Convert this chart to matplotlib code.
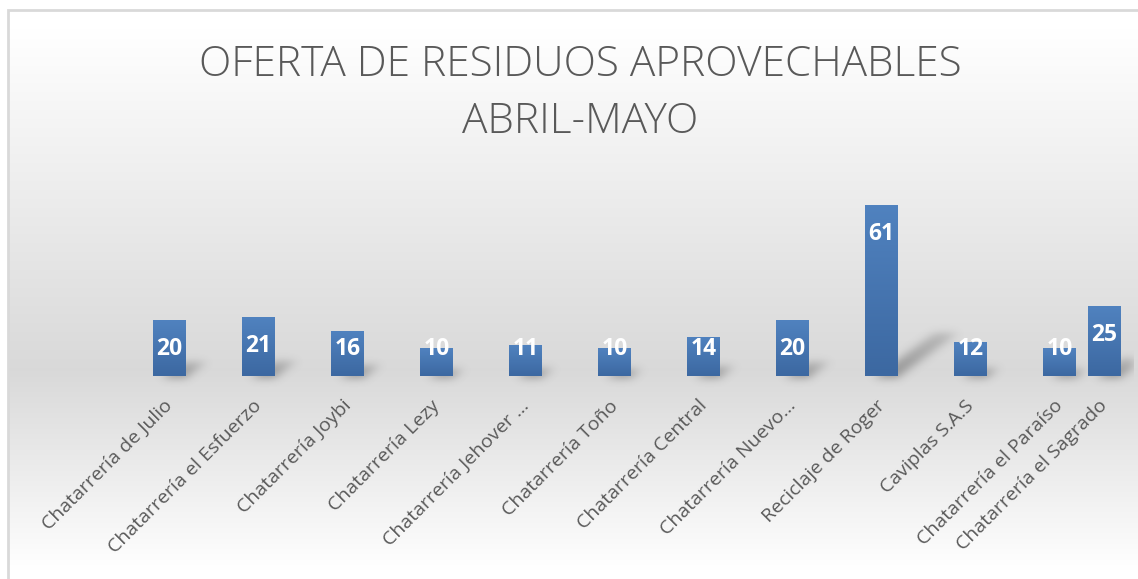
import numpy as np
import matplotlib.pyplot as plt
import matplotlib.transforms as mtransforms
from matplotlib.patches import Rectangle

# Data
categories = ['Chatarrería de Julio', 'Chatarrería el Esfuerzo', 'Chatarrería Joybi',
              'Chatarrería Lezy', 'Chatarrería Jehover ...', 'Chatarrería Toño',
              'Chatarrería Central', 'Chatarrería Nuevo...', 'Reciclaje de Roger',
              'Caviplas S.A.S', 'Chatarrería el Paraíso', 'Chatarrería el Sagrado']
values = [20, 21, 16, 10, 11, 10, 14, 20, 61, 12, 10, 25]
title = 'OFERTA DE RESIDUOS APROVECHABLES\nABRIL-MAYO'

plt.rcParams['font.family'] = ['Open Sans', 'DejaVu Sans']

W, H = 1138, 579
fig = plt.figure(figsize=(W / 100, H / 100), dpi=100)

# background gradient (white -> gray -> white), vertical
bg = fig.add_axes([0, 0, 1, 1])
rows = (np.arange(H) + 0.5) / H  # 0 top, 1 bottom
ytop, ymid, ybot = 30 / H, 370 / H, 570 / H
g = np.where(rows < ymid,
             1.0 - 0.15 * np.clip((rows - ytop) / (ymid - ytop), 0, 1),
             0.85 + 0.15 * np.clip((rows - ymid) / (ybot - ymid), 0, 1))
img = np.dstack([g[:, None]] * 3)
bg.imshow(img, aspect='auto', extent=[0, 1, 0, 1], interpolation='bilinear')
bg.set_xlim(0, 1)
bg.set_ylim(0, 1)
bg.axis('off')
# white margin outside the chart frame
bg.add_patch(Rectangle((0, 1 - 10 / H), 1, 10 / H, facecolor='white', edgecolor='none'))
bg.add_patch(Rectangle((0, 0), 8 / W, 1, facecolor='white', edgecolor='none'))
bg.add_patch(Rectangle((8 / W, -0.01), 1.1, 1 - 10 / H + 0.01, fill=False,
                       edgecolor='#d9d9d9', linewidth=2))

# plot area
px = 2.8  # pixels per unit
base = 376
left_px, right_px = 125, 1134
ax = fig.add_axes([left_px / W, (H - base) / H, (right_px - left_px) / W, (base - 190) / H])
ax.set_facecolor('none')

x = np.arange(len(values), dtype=float)
x[-1] = 10.5  # last column squeezed next to the previous one
width = 0.36
xmin, xmax = -0.5, -0.5 + (right_px - left_px) / 89
ymax = (base - 190) / px

# soft shadows: rasterise a slanted footprint per bar and blur it
nx, ny = right_px - left_px, 200
below = 14  # pixels under the baseline
xs = xmin + (np.arange(nx) + 0.5) / nx * (xmax - xmin)
ys = (np.arange(ny) + 0.5)[::-1] / px - below / px
XX, YY = np.meshgrid(xs, ys)
mask = np.zeros_like(XX)
for xi, v in zip(x, values):
    dy = v * 0.25
    dx = v * px * 0.34 / 89
    t = np.clip(YY / dy, 0, None)
    x0 = xi - width / 2 + 0.12 + t * dx
    x1 = xi + width / 2 + 0.02 + t * dx
    inside = (YY >= -1.5 / px) & (YY <= dy) & (XX >= x0) & (XX <= x1)
    mask = np.maximum(mask, inside * (1 - 0.5 * np.clip(YY / dy, 0, 1)))


def blur(a, sigma, axis):
    k = np.arange(-3 * sigma, 3 * sigma + 1)
    k = np.exp(-0.5 * (k / sigma) ** 2)
    k /= k.sum()
    return np.apply_along_axis(lambda r: np.convolve(r, k, mode='same'), axis, a)


mask = blur(blur(mask, 5, 1), 4, 0)
shadow = np.zeros((ny, nx, 4))
shadow[..., :3] = 0.35
shadow[..., 3] = np.clip(mask * 0.55, 0, 1)
sh = ax.imshow(shadow, aspect='auto', extent=[xmin, xmax, -below / px, (ny - below) / px],
               zorder=1, interpolation='bilinear')
sh.set_clip_on(False)

bars = ax.bar(x, values, width=width, color='#4a7ab5', zorder=2)

# gradient fill inside the bars
grad = np.linspace(0, 1, 100)[:, None]
top_c = np.array([0x50, 0x82, 0xbf]) / 255
bot_c = np.array([0x3c, 0x68, 0xa1]) / 255
gimg = top_c * (1 - grad[..., None]) + bot_c * grad[..., None]
for b in bars:
    im = ax.imshow(gimg, aspect='auto', extent=[b.get_x(), b.get_x() + b.get_width(), 0, b.get_height()],
                   zorder=3, interpolation='bilinear')
    im.set_clip_path(b)
ax.set_xlim(xmin, xmax)
ax.set_ylim(0, ymax)

# data labels
for xi, v in zip(x, values):
    ly = max(v - 29 / px, 27 / px)
    ax.text(xi, ly, str(v), ha='center', va='center', color='white',
            fontsize=16.5, fontweight='bold', zorder=4)

ax.set_xticks(x)
ax.set_xticklabels(categories, rotation=45, ha='right', fontsize=14, color='#595959')
ax.tick_params(axis='x', length=0, pad=15)
shift = mtransforms.ScaledTranslation(7 / 100, 0, fig.dpi_scale_trans)
for lab in ax.get_xticklabels():
    lab.set_transform(lab.get_transform() + shift)
ax.set_yticks([])
for s in ax.spines.values():
    s.set_visible(False)

fig.text(580 / W, 1 - 93 / H, title, ha='center', va='center', fontsize=30.5,
         fontweight='light', color='#595959', linespacing=1.45)

fig.savefig('out.png', dpi=100)
